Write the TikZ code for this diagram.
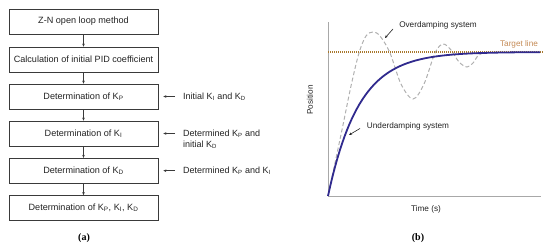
\documentclass[tikz,border=0pt]{standalone}
\usepackage{fontspec}
\setmainfont{Liberation Sans}
\newfontfamily\capserif{Liberation Serif}
\usetikzlibrary{arrows.meta}
\definecolor{boxline}{HTML}{3A3A3A}
\definecolor{txt}{HTML}{222222}
\definecolor{axisgray}{HTML}{A8A8A8}
\definecolor{dashgray}{HTML}{B0B0B0}
\definecolor{curveblue}{HTML}{302A8E}
\definecolor{targetc}{HTML}{A8782E}
\definecolor{targettxt}{HTML}{C48A55}
\begin{document}
\begin{tikzpicture}[x=1pt,y=-1pt,
  stepbox/.style={draw=boxline, line width=0.7pt, minimum width=149pt, minimum height=25pt, inner sep=0pt, font=\fontsize{9.1}{10}\selectfont, text=txt},
  flow/.style={draw=boxline, line width=0.6pt, -{Stealth[length=3pt,width=2.6pt]}},
  sidelbl/.style={anchor=base west, inner sep=0pt, font=\fontsize{9}{10}\selectfont, text=txt},
  plotlbl/.style={inner sep=0pt, font=\fontsize{8.2}{10}\selectfont, text=txt},
  caplbl/.style={inner sep=0pt, font=\capserif\bfseries\fontsize{10}{12}\selectfont, text=black},
  axisline/.style={draw=axisgray, line width=0.7pt},
  pointer/.style={draw=txt, line width=0.6pt, -{Stealth[length=3pt,width=2.6pt]}}]
\useasboundingbox (0,0) rectangle (550,249);

% ---------- (a) flowchart ----------
\node[stepbox] (b1) at (83.5,21.5) {Z-N open loop method};
\node[stepbox] (b2) at (83.5,59.5) {Calculation of initial PID coefficient};
\node[stepbox] (b3) at (83.5,96.5) {Determination of K\textsubscript{P}};
\node[stepbox] (b4) at (83.5,133.5) {Determination of K\textsubscript{I}};
\node[stepbox] (b5) at (83.5,170.7) {Determination of K\textsubscript{D}};
\node[stepbox] (b6) at (83.5,208) {Determination of K\textsubscript{P}, K\textsubscript{I}, K\textsubscript{D}};
\draw[flow] (b1) -- (b2);
\draw[flow] (b2) -- (b3);
\draw[flow] (b3) -- (b4);
\draw[flow] (b4) -- (b5);
\draw[flow] (b5) -- (b6);

\node[sidelbl] (l3) at (183,99.7) {Initial K\textsubscript{I} and K\textsubscript{D}};
\node[sidelbl] (l4) at (183,136.7) {Determined K\textsubscript{P} and};
\node[sidelbl] (l4b) at (183,147.7) {initial K\textsubscript{D}};
\node[sidelbl] (l5) at (183,173.9) {Determined K\textsubscript{P} and K\textsubscript{I}};
\coordinate (s3) at (175,96.5);
\coordinate (s4) at (175,133.5);
\coordinate (s5) at (175,170.7);
\draw[flow] (s3) -- ([xshift=5pt]b3.east);
\draw[flow] (s4) -- ([xshift=5pt]b4.east);
\draw[flow] (s5) -- ([xshift=5pt]b5.east);

\node[caplbl] (capa) at (84,238) {(a)};

% ---------- (b) response plot ----------
\coordinate (origin) at (328,196);
\coordinate (ytop) at (328,22);
\coordinate (xend) at (541,196);
\draw[axisline] (ytop) -- (origin) -- (xend);

\draw[dashgray, line width=1pt, dash pattern=on 4pt off 2.5pt] plot[smooth, tension=0.55] coordinates {
  (328,196) (335,163) (343,125) (351,86) (359,53) (366,36) (373,32) (380,36)
  (390,53) (401,84) (413,99) (424,84) (435,53) (443,44) (451,50) (459,62)
  (467,67) (473,63) (479,55) (490,52.5) (540,52.5)};

\draw[targetc, line width=1.3pt, dash pattern=on 1pt off 1pt] (328,52) -- (543,52);

\draw[curveblue, line width=1.8pt] plot[domain=0:212, samples=90] ({328+\x},{52+144*exp(-\x/31)});

\node[plotlbl, text=targettxt] (tl) at (519,44) {Target line};
\node[plotlbl] (ov) at (438,25) {Overdamping system};
\node[plotlbl] (un) at (408,126) {Underdamping system};
\coordinate (ovs) at (393,29);
\coordinate (ove) at (385,38);
\coordinate (uns) at (360,128.5);
\coordinate (une) at (349,135);
\draw[pointer] (ovs) -- (ove);
\draw[pointer] (uns) -- (une);

\node[plotlbl, rotate=90] (ylab) at (310,100) {Position};
\node[plotlbl] (xlab) at (426,209) {Time (s)};
\node[caplbl] (capb) at (418,238) {(b)};
\end{tikzpicture}
\end{document}
